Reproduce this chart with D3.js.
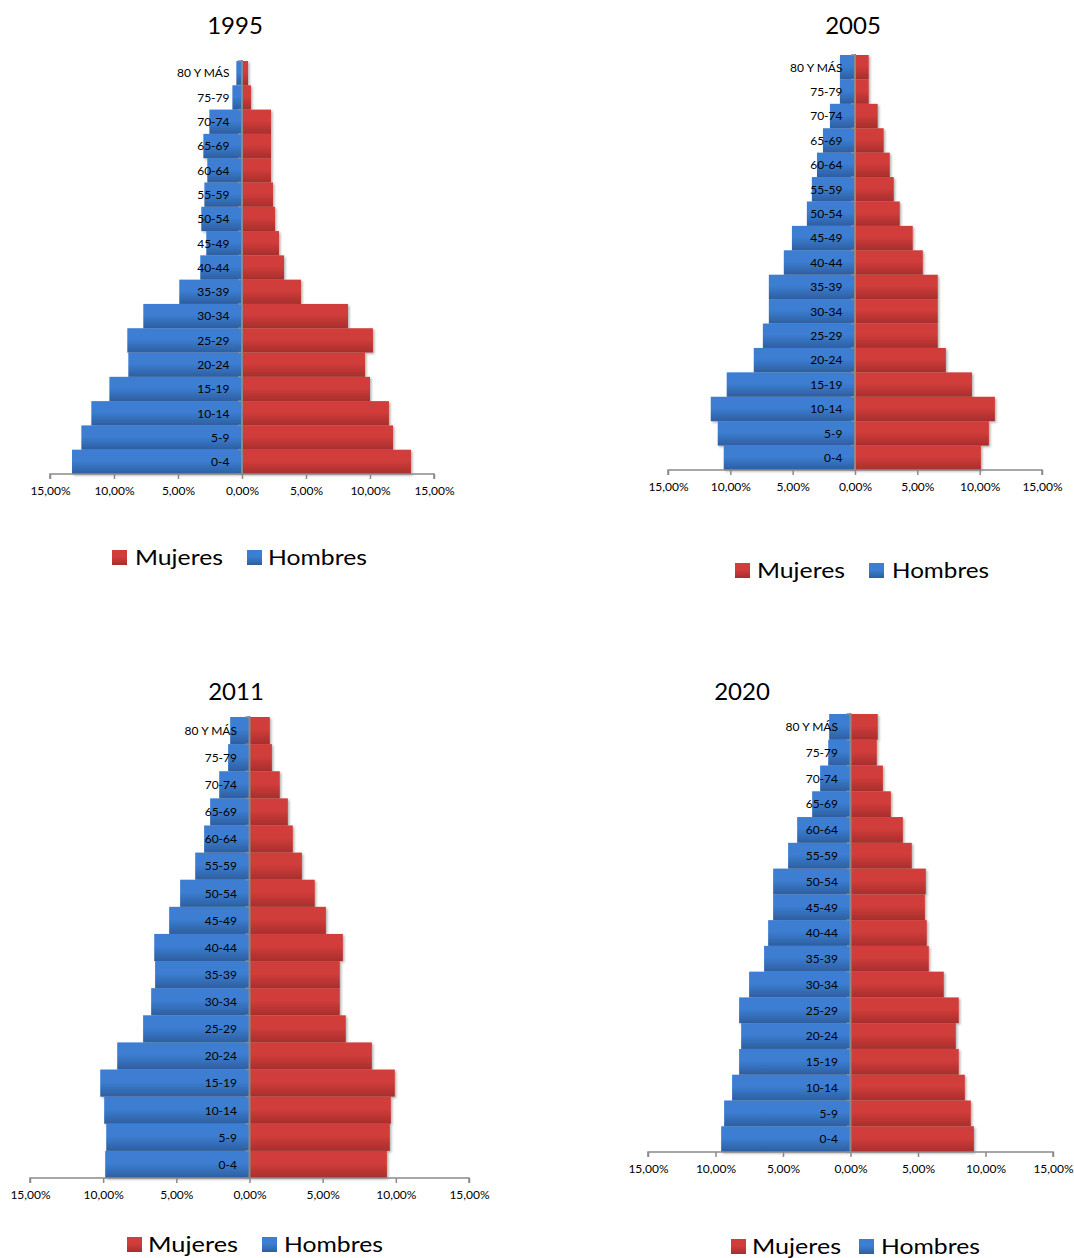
<!DOCTYPE html>
<html>
<head>
<meta charset="utf-8">
<script src="https://cdn.jsdelivr.net/npm/d3@7"></script>
<style>
  html, body { margin: 0; padding: 0; background: #fff; }
  svg { display: block; }
  text { font-family: Lato, "Open Sans", sans-serif; fill: #000; }
</style>
</head>
<body>
<svg id="chart" width="1074" height="1258"></svg>
<script>
// ---- DATA ----
const categories = ["0-4","5-9","10-14","15-19","20-24","25-29","30-34","35-39","40-44","45-49","50-54","55-59","60-64","65-69","70-74","75-79","80 Y MÁS"];
const tickValues = [-15, -10, -5, 0, 5, 10, 15];
const seriesNames = ["Mujeres", "Hombres"];

const years = ["1995", "2005", "2011", "2020"];

const hombres1995 = [13.28, 12.55, 11.77, 10.36, 8.88, 8.96, 7.71, 4.90, 3.26, 2.79, 3.18, 2.94, 2.71, 3.02, 2.55, 0.75, 0.44];
const mujeres1995 = [13.20, 11.80, 11.48, 10.00, 9.61, 10.23, 8.28, 4.61, 3.28, 2.89, 2.58, 2.42, 2.27, 2.27, 2.27, 0.70, 0.47];

const hombres2005 = [10.53, 11.01, 11.57, 10.29, 8.12, 7.39, 6.91, 6.91, 5.71, 5.06, 3.86, 3.46, 3.05, 2.57, 2.01, 1.21, 1.21];
const mujeres2005 = [10.10, 10.74, 11.22, 9.38, 7.29, 6.64, 6.64, 6.64, 5.44, 4.63, 3.59, 3.11, 2.79, 2.30, 1.82, 1.10, 1.10];

const hombres2011 = [9.86, 9.79, 9.93, 10.20, 9.04, 7.27, 6.72, 6.45, 6.51, 5.49, 4.74, 3.71, 3.10, 2.69, 2.07, 1.46, 1.32];
const mujeres2011 = [9.39, 9.59, 9.66, 9.93, 8.36, 6.58, 6.17, 6.17, 6.38, 5.22, 4.46, 3.58, 2.96, 2.62, 2.07, 1.53, 1.39];

const hombres2020 = [9.58, 9.36, 8.77, 8.25, 8.10, 8.25, 7.51, 6.40, 6.10, 5.73, 5.73, 4.62, 3.95, 2.84, 2.25, 1.65, 1.58];
const mujeres2020 = [9.14, 8.91, 8.47, 8.02, 7.80, 8.02, 6.91, 5.80, 5.65, 5.51, 5.58, 4.54, 3.88, 2.99, 2.40, 1.95, 2.02];

// ---- LAYOUT (positions only) ----
const panels = [
  { year: years[0], hombres: hombres1995, mujeres: mujeres1995,
    xL: 50, xR: 434, yTop: 61, yBot: 474, titleX: 235, titleY: 34,
    leg: { y: 550, sq1: 112, t1: 135, w1: 88, sq2: 247, t2: 268, w2: 99, base: 565 } },
  { year: years[1], hombres: hombres2005, mujeres: mujeres2005,
    xL: 668, xR: 1042, yTop: 55, yBot: 470, titleX: 853, titleY: 34,
    leg: { y: 563, sq1: 735, t1: 757, w1: 88, sq2: 869, t2: 892, w2: 97, base: 578 } },
  { year: years[2], hombres: hombres2011, mujeres: mujeres2011,
    xL: 30, xR: 469, yTop: 717, yBot: 1178, titleX: 236, titleY: 700,
    leg: { y: 1237, sq1: 127, t1: 148, w1: 90, sq2: 262, t2: 284, w2: 99, base: 1252 } },
  { year: years[3], hombres: hombres2020, mujeres: mujeres2020,
    xL: 648, xR: 1053, yTop: 714, yBot: 1152, titleX: 742, titleY: 700,
    leg: { y: 1239, sq1: 731, t1: 752, w1: 89, sq2: 859, t2: 881, w2: 99, base: 1254 } }
];

const svg = d3.select("#chart");
const defs = svg.append("defs");

function grad(id, top, bot) {
  const g = defs.append("linearGradient").attr("id", id)
    .attr("x1", 0).attr("y1", 0).attr("x2", 0).attr("y2", 1);
  g.append("stop").attr("offset", "0%").attr("stop-color", top);
  g.append("stop").attr("offset", "45%").attr("stop-color", top);
  g.append("stop").attr("offset", "100%").attr("stop-color", bot);
}
grad("gBlue", "#3c7ed2", "#2d5e9f");
grad("gRed", "#d13d3b", "#a72e2c");

const flt = defs.append("filter").attr("id", "shadow")
  .attr("x", "-5%").attr("y", "-20%").attr("width", "115%").attr("height", "150%");
flt.append("feDropShadow").attr("dx", 1.5).attr("dy", 1.5).attr("stdDeviation", 1)
  .attr("flood-color", "#000").attr("flood-opacity", 0.3);

const axisColor = "#8a8a8a";

panels.forEach(p => {
  const g = svg.append("g");
  const x = d3.scaleLinear().domain([-15, 15]).range([p.xL, p.xR]);
  const y = d3.scaleBand().domain(categories.slice().reverse()).range([p.yTop, p.yBot]).padding(0);
  const x0 = x(0);

  // bars: Hombres (negative side)
  g.append("g").attr("filter", "url(#shadow)")
    .selectAll("rect.h").data(categories).join("rect")
    .attr("x", (d, i) => x(-p.hombres[i]))
    .attr("y", d => y(d))
    .attr("width", (d, i) => x0 - x(-p.hombres[i]))
    .attr("height", y.bandwidth())
    .attr("fill", "url(#gBlue)");

  // bars: Mujeres (positive side)
  g.append("g").attr("filter", "url(#shadow)")
    .selectAll("rect.m").data(categories).join("rect")
    .attr("x", x0)
    .attr("y", d => y(d))
    .attr("width", (d, i) => x(p.mujeres[i]) - x0)
    .attr("height", y.bandwidth())
    .attr("fill", "url(#gRed)");

  // x axis
  const xa = g.append("g").attr("transform", `translate(0,${p.yBot})`)
    .call(d3.axisBottom(x).tickValues(tickValues).tickSize(5).tickPadding(7)
      .tickFormat(d => Math.abs(d).toFixed(2).replace(".", ",") + "%"));
  xa.select(".domain").attr("stroke", axisColor).attr("stroke-width", 1.5)
    .attr("d", `M${p.xL},5V0H${p.xR}V5`);
  xa.selectAll(".tick line").attr("stroke", axisColor).attr("stroke-width", 1.5);
  xa.selectAll(".tick text").attr("font-size", "12px").attr("font-family", "Lato").attr("fill", "#000");

  // vertical axis at zero
  const bounds = categories.map(c => y(c)).concat([p.yBot]);
  g.selectAll("line.yt").data(bounds).join("line")
    .attr("x1", x0 - 4).attr("x2", x0).attr("y1", d => d).attr("y2", d => d)
    .attr("stroke", axisColor).attr("stroke-width", 1.5);
  g.append("line").attr("x1", x0).attr("x2", x0).attr("y1", p.yTop - 1).attr("y2", p.yBot)
    .attr("stroke", axisColor).attr("stroke-width", 2);

  // category labels
  g.selectAll("text.cat").data(categories).join("text")
    .attr("x", x0 - 12.5)
    .attr("y", d => y(d) + y.bandwidth() / 2)
    .attr("dy", "0.36em")
    .attr("text-anchor", "end")
    .attr("font-size", "12px")
    .text(d => d);

  // title
  g.append("text").attr("x", p.titleX).attr("y", p.titleY)
    .attr("text-anchor", "middle").attr("font-size", "24px").text(p.year);

  // legend
  const L = p.leg;
  const items = [
    { name: seriesNames[0], fill: "url(#gRed)", sq: L.sq1, t: L.t1, w: L.w1 },
    { name: seriesNames[1], fill: "url(#gBlue)", sq: L.sq2, t: L.t2, w: L.w2 }
  ];
  items.forEach(it => {
    g.append("rect").attr("x", it.sq).attr("y", L.y).attr("width", 15).attr("height", 15).attr("fill", it.fill);
    g.append("text").attr("x", it.t).attr("y", L.base).attr("font-size", "21px")
      .attr("textLength", it.w).attr("lengthAdjust", "spacingAndGlyphs").text(it.name);
  });
});
</script>
</body>
</html>
